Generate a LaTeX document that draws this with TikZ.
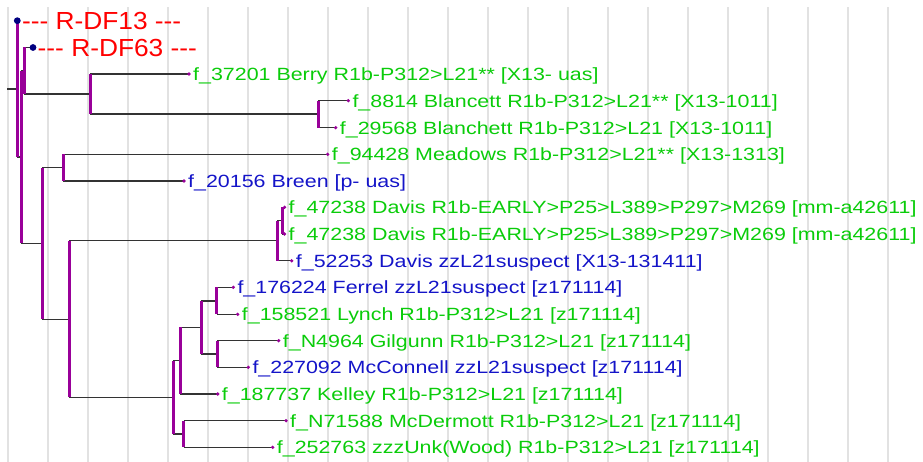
\documentclass[tikz,border=0pt]{standalone}
\usepackage{fontspec}
\usepackage{tikz}
\newfontfamily\leaffont[FakeStretch=1.21]{Liberation Sans}
\newfontfamily\rootfont[FakeStretch=1.065]{Liberation Sans}
\definecolor{dpurple}{RGB}{153,0,153}
\definecolor{lgreen}{RGB}{10,204,10}
\definecolor{lblue}{RGB}{20,20,200}
\definecolor{dnavy}{RGB}{0,0,128}
\definecolor{gridgray}{RGB}{226,226,226}

\begin{document}
\begin{tikzpicture}[x=1pt,y=-1pt,
  gridline/.style={line width=2pt,gridgray},
  stem/.style={line width=1.4pt,black!80},
  fork/.style={line width=3pt,dpurple},
  leaf/.style={inner sep=0pt,minimum size=0pt},
  tag/.style={anchor=base west,inner sep=0pt,font=\leaffont\fontsize{17.7}{20}\selectfont},
  toptag/.style={anchor=base west,inner sep=0pt,text=red,font=\rootfont\fontsize{24.7}{28}\selectfont}]
\useasboundingbox (0,0) rectangle (923,462);
\foreach \gx in {8,48,...,888}
  \draw [gridline] (\gx,7)--(\gx,462);

\coordinate (in) at (7,88.9);
\coordinate (n0) at (17,88.9);
\coordinate (n1) at (21,157);
\coordinate (n2) at (24,70.8);
\coordinate (n3) at (90,94.1);
\coordinate (n3b) at (318,114.2);
\coordinate (n4) at (42,243.3);
\coordinate (n5) at (63,167.7);
\coordinate (n6) at (69,319.2);
\coordinate (n7) at (277,240.8);
\coordinate (n8) at (282,220.7);
\coordinate (n9) at (173,397.4);
\coordinate (n10) at (180.3,360.5);
\coordinate (n11) at (201.3,327.4);
\coordinate (n12) at (216.7,300.8);
\coordinate (n13) at (217.3,354);
\coordinate (n14) at (183.7,434);

\node[leaf] (rdf13) at (17.3,20.7) {};
\node[leaf] (rdf63) at (33,47.5) {};
\node[leaf] (berry) at (189,74) {};
\node[leaf] (blancett) at (348.3,100.7) {};
\node[leaf] (blanchett) at (335.7,127.7) {};
\node[leaf] (meadows) at (327.7,154.3) {};
\node[leaf] (breen) at (184,181) {};
\node[leaf] (davisa) at (284.5,207.3) {};
\node[leaf] (davisb) at (284.5,234) {};
\node[leaf] (davisc) at (291.7,260.8) {};
\node[leaf] (ferrel) at (233.3,287.3) {};
\node[leaf] (lynch) at (237.7,314.3) {};
\node[leaf] (gilgunn) at (278.7,340.7) {};
\node[leaf] (mcconnell) at (248.3,367.3) {};
\node[leaf] (kelley) at (217.7,394) {};
\node[leaf] (mcdermott) at (286,420.7) {};
\node[leaf] (zzzunk) at (272.7,447.3) {};

\draw [stem] (in)--(n0);
\draw [stem] (n1 -| n0)--(n1);
\draw [stem] (n2 -| n1)--(n2);
\draw [stem] (n4 -| n1)--(n4);
\draw [stem] (rdf63 -| n2)--(rdf63);
\draw [stem] (n3 -| n2)--(n3);
\draw [stem] (berry -| n3)--(berry);
\draw [stem] (n3b -| n3)--(n3b);
\draw [stem] (blancett -| n3b)--(blancett);
\draw [stem] (blanchett -| n3b)--(blanchett);
\draw [stem] (n5 -| n4)--(n5);
\draw [stem] (n6 -| n4)--(n6);
\draw [stem] (meadows -| n5)--(meadows);
\draw [stem] (breen -| n5)--(breen);
\draw [stem] (n7 -| n6)--(n7);
\draw [stem] (n9 -| n6)--(n9);
\draw [stem] (n8 -| n7)--(n8);
\draw [stem] (davisc -| n7)--(davisc);
\draw [stem] (davisa -| n8)--(davisa);
\draw [stem] (davisb -| n8)--(davisb);
\draw [stem] (n10 -| n9)--(n10);
\draw [stem] (n14 -| n9)--(n14);
\draw [stem] (n11 -| n10)--(n11);
\draw [stem] (kelley -| n10)--(kelley);
\draw [stem] (n12 -| n11)--(n12);
\draw [stem] (n13 -| n11)--(n13);
\draw [stem] (ferrel -| n12)--(ferrel);
\draw [stem] (lynch -| n12)--(lynch);
\draw [stem] (gilgunn -| n13)--(gilgunn);
\draw [stem] (mcconnell -| n13)--(mcconnell);
\draw [stem] (mcdermott -| n14)--(mcdermott);
\draw [stem] (zzzunk -| n14)--(zzzunk);

\draw [fork] (n0 |- rdf13)--(n0 |- n1);
\draw [fork] (n1 |- n2)--(n1 |- n4);
\draw [fork] (n2 |- rdf63)--(n2 |- n3);
\draw [fork] (n3 |- berry)--(n3 |- n3b);
\draw [fork] (n3b |- blancett)--(n3b |- blanchett);
\draw [fork] (n4 |- n5)--(n4 |- n6);
\draw [fork] (n5 |- meadows)--(n5 |- breen);
\draw [fork] (n6 |- n7)--(n6 |- n9);
\draw [fork] (n7 |- n8)--(n7 |- davisc);
\draw [fork] (n8 |- davisa)--(n8 |- davisb);
\draw [fork] (n9 |- n10)--(n9 |- n14);
\draw [fork] (n10 |- n11)--(n10 |- kelley);
\draw [fork] (n11 |- n12)--(n11 |- n13);
\draw [fork] (n12 |- ferrel)--(n12 |- lynch);
\draw [fork] (n13 |- gilgunn)--(n13 |- mcconnell);
\draw [fork] (n14 |- mcdermott)--(n14 |- zzzunk);

\fill [dnavy] (rdf13) circle (3.4pt);
\fill [dnavy] (rdf63) circle (3.4pt);
\foreach \lf in {berry,blancett,blanchett,meadows,breen,davisa,davisb,davisc,
  ferrel,lynch,gilgunn,mcconnell,kelley,mcdermott,zzzunk}
  \fill [dpurple] (\lf) circle (1.8pt);

\node[toptag] (rdf13t) at ([xshift=4.5pt,yshift=-8.8pt]rdf13.center) {-{}-{}- R-DF13 -{}-{}-};
\node[toptag] (rdf63t) at ([xshift=4.5pt,yshift=-8.8pt]rdf63.center) {-{}-{}- R-DF63 -{}-{}-};
\node[tag,text=lgreen] (berryt) at ([xshift=4pt,yshift=-6.4pt]berry.center) {f\_37201 Berry R1b-P312>L21** [X13- uas]};
\node[tag,text=lgreen] (blancettt) at ([xshift=4pt,yshift=-6.4pt]blancett.center) {f\_8814 Blancett R1b-P312>L21** [X13-1011]};
\node[tag,text=lgreen] (blanchettt) at ([xshift=4pt,yshift=-6.4pt]blanchett.center) {f\_29568 Blanchett R1b-P312>L21 [X13-1011]};
\node[tag,text=lgreen] (meadowst) at ([xshift=4pt,yshift=-6.4pt]meadows.center) {f\_94428 Meadows R1b-P312>L21** [X13-1313]};
\node[tag,text=lblue] (breent) at ([xshift=4pt,yshift=-6.4pt]breen.center) {f\_20156 Breen [p- uas]};
\node[tag,text=lgreen] (davisat) at ([xshift=4pt,yshift=-6.4pt]davisa.center) {f\_47238 Davis R1b-EARLY>P25>L389>P297>M269 [mm-a42611]};
\node[tag,text=lgreen] (davisbt) at ([xshift=4pt,yshift=-6.4pt]davisb.center) {f\_47238 Davis R1b-EARLY>P25>L389>P297>M269 [mm-a42611]};
\node[tag,text=lblue] (davisct) at ([xshift=4pt,yshift=-6.4pt]davisc.center) {f\_52253 Davis zzL21suspect [X13-131411]};
\node[tag,text=lblue] (ferrelt) at ([xshift=4pt,yshift=-6.4pt]ferrel.center) {f\_176224 Ferrel zzL21suspect [z171114]};
\node[tag,text=lgreen] (lyncht) at ([xshift=4pt,yshift=-6.4pt]lynch.center) {f\_158521 Lynch R1b-P312>L21 [z171114]};
\node[tag,text=lgreen] (gilgunnt) at ([xshift=4pt,yshift=-6.4pt]gilgunn.center) {f\_N4964 Gilgunn R1b-P312>L21 [z171114]};
\node[tag,text=lblue] (mcconnellt) at ([xshift=4pt,yshift=-6.4pt]mcconnell.center) {f\_227092 McConnell zzL21suspect [z171114]};
\node[tag,text=lgreen] (kelleyt) at ([xshift=4pt,yshift=-6.4pt]kelley.center) {f\_187737 Kelley R1b-P312>L21 [z171114]};
\node[tag,text=lgreen] (mcdermottt) at ([xshift=4pt,yshift=-6.4pt]mcdermott.center) {f\_N71588 McDermott R1b-P312>L21 [z171114]};
\node[tag,text=lgreen] (zzzunkt) at ([xshift=4pt,yshift=-6.4pt]zzzunk.center) {f\_252763 zzzUnk(Wood) R1b-P312>L21 [z171114]};
\end{tikzpicture}
\end{document}
